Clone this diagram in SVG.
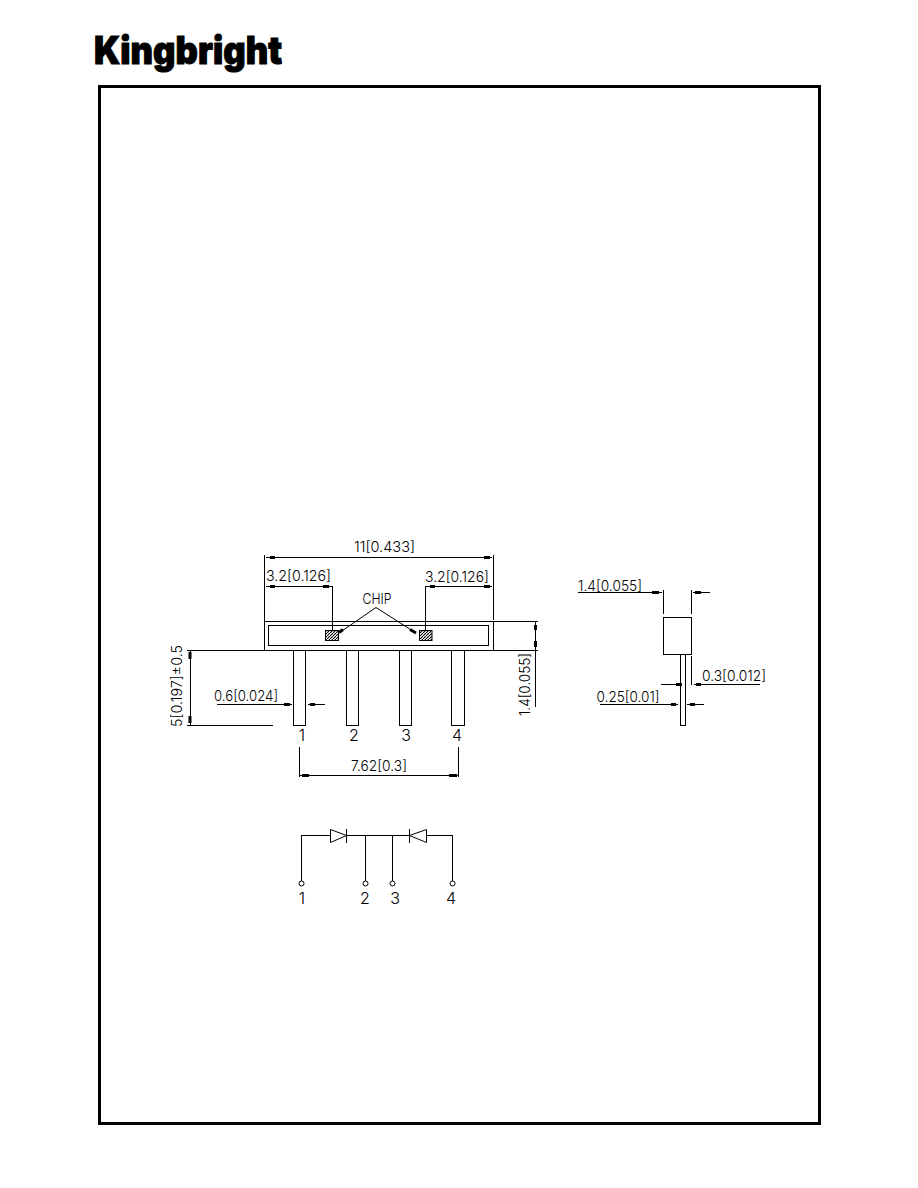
<svg xmlns="http://www.w3.org/2000/svg" width="918" height="1188" viewBox="0 0 918 1188">
<style>
text{font-family:"Inter","Liberation Sans",Arial,sans-serif;fill:#000;font-weight:300}
.d{font-size:14.5px}
.n{font-size:16px;text-anchor:middle}
.logo{font-family:"Inter","Liberation Sans",sans-serif;font-weight:900;font-size:38px;stroke:#000;stroke-width:1px}
.l,.s{fill:none;stroke:#000;stroke-width:1;shape-rendering:crispEdges}
.a{fill:none;stroke:#000;stroke-width:3}
.frame{fill:none;stroke:#000;stroke-width:3}
.o{fill:#fff;stroke:#000;stroke-width:1}
</style>
<defs>
<pattern id="hatch" width="3" height="3" patternUnits="userSpaceOnUse">
<rect width="3" height="3" fill="#fff"/>
<path d="M0 3L3 0" stroke="#000" stroke-width="1.1"/>
</pattern>
</defs>
<rect width="918" height="1188" fill="#fff"/>
<text class="logo" x="94" y="64" textLength="188" lengthAdjust="spacingAndGlyphs">Kingbright</text>
<rect class="frame" x="99.5" y="86.5" width="720" height="1037"/>

<g id="package-front">
<rect class="s" x="264.5" y="621.5" width="229" height="29"/>
<rect class="s" x="268.5" y="625.5" width="220" height="20"/>
<rect x="325.5" y="630.5" width="13" height="10" fill="url(#hatch)" stroke="#000"/>
<rect x="419.5" y="630.5" width="12.500" height="10" fill="url(#hatch)" stroke="#000"/>
</g>
<g id="pin-1"><rect class="s" x="293.5" y="650.500" width="12" height="75"/><text class="n" x="302" y="741">1</text></g>
<g id="pin-2"><rect class="s" x="346.5" y="650.500" width="12" height="75"/><text class="n" x="354" y="741">2</text></g>
<g id="pin-3"><rect class="s" x="399.5" y="650.500" width="12" height="75"/><text class="n" x="406" y="741">3</text></g>
<g id="pin-4"><rect class="s" x="451.5" y="650.500" width="13" height="75"/><text class="n" x="457" y="741">4</text></g>

<g id="package-side">
<rect class="s" x="663.5" y="617.5" width="28" height="37"/>
<rect class="s" x="680.5" y="654.5" width="5" height="71"/>
</g>

<g id="connectors">
<path class="l" d="M264.500 555V621M493.500 555V620M266 557.500H492"/>
<path class="a" d="M270 557.500H275M484 557.500H490"/>
<path class="l" d="M266 586.500H332.500V630M425.500 630V586.500H492"/>
<path class="a" d="M270 586.500H275M323 586.500H329M430 586.500H435M484 586.500H490"/>
<path d="M339 633L376 607.500L416 633" fill="none" stroke="#000"/>
<path class="a" d="M339 632.500L343 629.500M410 629.500L416 633"/>
<path class="l" d="M187 650.500H264.500M187 725.500H273M190.500 651V725"/>
<path class="a" d="M190 652V659M190 716V723"/>
<path class="l" d="M217 704.500H292M308 704.500H325"/>
<path class="a" d="M284 704.500H290M310 704.500H315"/>
<path class="l" d="M299.500 747V777M458.500 747V777M300 775.500H458"/>
<path class="a" d="M302 775.500H309M449 775.500H457"/>
<path class="l" d="M494 621.500H538M494 650.500H538M535.500 622V707"/>
<path class="a" d="M535.500 625V630M535.500 641V647"/>
<path class="l" d="M663.500 590V614M691.500 590V614M578 592.500H662M693 592.500H710"/>
<path class="a" d="M652 592.500H659M695 592.500H701"/>
<path class="l" d="M691.500 656V685M661 684.500H682M694 684.500H760"/>
<path class="a" d="M676 684.500H682M696 684.500H701"/>
<path class="l" d="M600 704.500H678M687 704.500H704"/>
<path class="a" d="M671 704.500H676M690 704.500H695"/>
</g>

<g id="dimension-labels">
<text class="d" x="354" y="552" textLength="61" lengthAdjust="spacingAndGlyphs">11[0.433]</text>
<text class="d" x="266" y="581" textLength="65" lengthAdjust="spacingAndGlyphs">3.2[0.126]</text>
<text class="d" x="425" y="582" textLength="64" lengthAdjust="spacingAndGlyphs">3.2[0.126]</text>
<text class="d" x="362.500" y="604" textLength="29" lengthAdjust="spacingAndGlyphs">CHIP</text>
<text class="d" x="214" y="701" textLength="64" lengthAdjust="spacingAndGlyphs">0.6[0.024]</text>
<text class="d" x="351" y="771" textLength="56" lengthAdjust="spacingAndGlyphs">7.62[0.3]</text>
<text class="d" transform="translate(182 727) rotate(-90)" textLength="82" lengthAdjust="spacingAndGlyphs">5[0.197]±0.5</text>
<text class="d" transform="translate(530 716) rotate(-90)" textLength="63" lengthAdjust="spacingAndGlyphs">1.4[0.055]</text>
<text class="d" x="578" y="590.500" textLength="64" lengthAdjust="spacingAndGlyphs">1.4[0.055]</text>
<text class="d" x="702" y="681" textLength="64" lengthAdjust="spacingAndGlyphs">0.3[0.012]</text>
<text class="d" x="596.500" y="701.500" textLength="63" lengthAdjust="spacingAndGlyphs">0.25[0.01]</text>
</g>

<g id="schematic">
<path class="l" d="M301.500 881V835.500H330M346 835.500H409M427 835.500H452.500V881M365.500 835.500V881M392.500 835.500V881"/>
<g id="diode-1"><path class="l" d="M346.500 829V842.500"/><path d="M330.500 829.500L346.500 835.500L330.500 842.500Z" fill="#fff" stroke="#000"/></g>
<g id="diode-2"><path class="l" d="M409.500 829V842.500"/><path d="M426.500 829.500L409.500 835.500L426.500 842.500Z" fill="#fff" stroke="#000"/></g>
<circle class="o" cx="301.500" cy="883.500" r="2.500"/>
<circle class="o" cx="365.500" cy="883.500" r="2.500"/>
<circle class="o" cx="392.500" cy="883.500" r="2.500"/>
<circle class="o" cx="452.500" cy="883.500" r="2.500"/>
<text class="n" x="302" y="904">1</text>
<text class="n" x="365" y="904">2</text>
<text class="n" x="395" y="904">3</text>
<text class="n" x="451" y="904">4</text>
</g>
</svg>
